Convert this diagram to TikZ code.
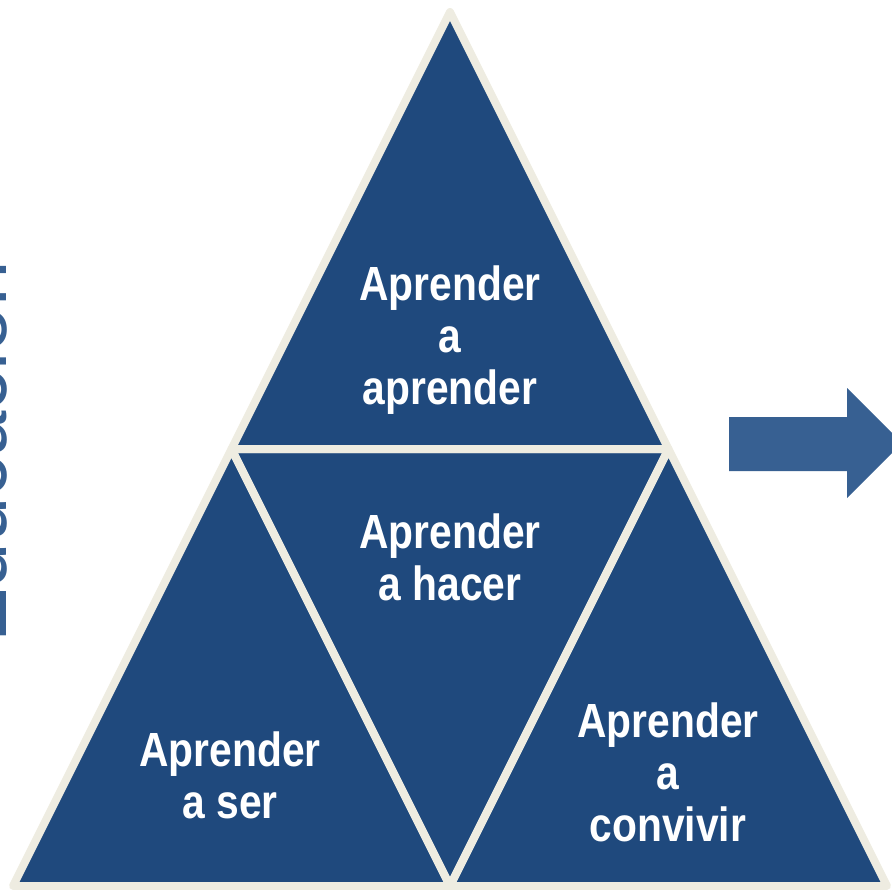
\documentclass[tikz,border=0pt]{standalone}
\usepackage{fontspec}
\setmainfont{Liberation Sans}
\newfontfamily\labelfont[FakeStretch=0.85]{Liberation Sans}
\definecolor{pyrblue}{HTML}{1F497D}
\definecolor{pyrcream}{HTML}{EEECE1}
\definecolor{arrowblue}{HTML}{376092}
\tikzset{
  piece/.style={fill=pyrblue},
  seam/.style={draw=pyrcream, line width=4.55pt, line join=round},
  pyrtext/.style={text=white, align=center, inner sep=0pt,
    font=\labelfont\bfseries\fontsize{27.3}{29.6}\selectfont}
}
\begin{document}
\begin{tikzpicture}[x=0.02cm,y=-0.02cm]
  \useasboundingbox (0,0) rectangle (892,889);
  \clip (0,0) rectangle (892,889);

  % corners of the pyramid
  \coordinate (T)  at (450,12);
  \coordinate (BL) at (13,886);
  \coordinate (BR) at (887,886);
  \coordinate (ML) at (231.5,449);
  \coordinate (MR) at (668.5,449);
  \coordinate (MB) at (450,886);

  % the four pieces
  \fill[piece] (T) -- (ML) -- (MR) -- cycle;
  \fill[piece] (ML) -- (MR) -- (MB) -- cycle;
  \fill[piece] (ML) -- (BL) -- (MB) -- cycle;
  \fill[piece] (MR) -- (MB) -- (BR) -- cycle;
  \draw[seam] (T) -- (ML) -- (MR) -- cycle;
  \draw[seam] (ML) -- (MR) -- (MB) -- cycle;
  \draw[seam] (ML) -- (BL) -- (MB) -- cycle;
  \draw[seam] (MR) -- (MB) -- (BR) -- cycle;

  \node[pyrtext] (aprender) at (450,340) {Aprender\\a\\aprender};
  \node[pyrtext] (hacer)    at (450,557) {Aprender\\a hacer};
  \node[pyrtext] (ser)      at (230,775) {Aprender\\a ser};
  \node[pyrtext] (convivir) at (668,772) {Aprender\\a\\convivir};

  % side title, cut by the left edge
  \node[rotate=90, anchor=base west, inner sep=0pt, text=arrowblue,
        font=\fontsize{46.5}{50}\selectfont] (educacion) at (7,643) {Educación};

  % arrow to the right
  \fill[arrowblue] (729,417) -- (847,417) -- (847,388) -- (902,443)
    -- (847,498) -- (847,471) -- (729,471) -- cycle;
\end{tikzpicture}
\end{document}
